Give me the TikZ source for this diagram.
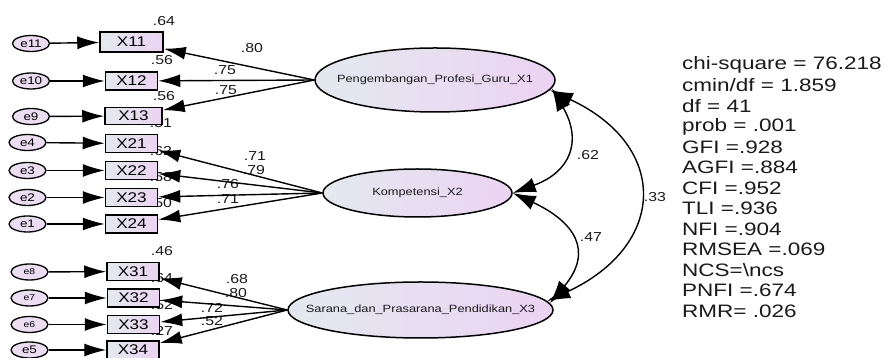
\documentclass[tikz,border=0pt]{standalone}
\usepackage{fontspec}
\setmainfont{Liberation Sans}
\usetikzlibrary{arrows.meta,shapes.geometric}
\definecolor{gl}{HTML}{E3E9EF}
\definecolor{gr}{HTML}{ECD3F3}
\definecolor{ef}{HTML}{ECDDF2}
\definecolor{tx}{HTML}{1A1A1A}
\newcommand\sx[1]{\scalebox{1.22}[1]{#1}}
\begin{document}
\begin{tikzpicture}[x=1pt,y=1pt,
  lat/.style={ellipse,draw,line width=1.5pt,left color=gl,right color=gr,inner sep=0pt},
  lattext/.style={inner sep=0pt,text=tx,font=\fontsize{10.5}{12}\selectfont},
  obs/.style={rectangle,draw,line width=1.5pt,left color=gl,right color=gr,inner sep=0pt,minimum width=52pt,minimum height=18pt,font=\fontsize{14}{16}\selectfont},
  err/.style={ellipse,draw,line width=1.3pt,fill=ef,inner sep=0pt,minimum width=37pt,minimum height=16pt,font=\fontsize{11}{12}\selectfont},
  errs/.style={err,font=\fontsize{8.5}{10}\selectfont},
  pth/.style={line width=1.4pt,-{Latex[length=22pt,width=13pt]}},
  cov/.style={line width=1.4pt,{Latex[length=23pt,width=15pt]}-{Latex[length=23pt,width=15pt]}},
  lab/.style={font=\fontsize{13}{14}\selectfont,text=tx,inner sep=0pt},
  stat/.style={font=\fontsize{18}{20}\selectfont,anchor=west,inner sep=0pt,text=tx}
]
\useasboundingbox (0,0) rectangle (887,358);
\fill[white] (0,0) rectangle (887,358);

% squared multiple correlations
\node[lab] (r11) at (164,337) {\sx{.64}};
\node[lab] (r12) at (162,298) {\sx{.56}};
\node[lab] (r13) at (164,262) {\sx{.56}};
\node[lab] (r21) at (161,235) {\sx{.51}};
\node[lab] (r22) at (161,207) {\sx{.62}};
\node[lab] (r23) at (161,181) {\sx{.58}};
\node[lab] (r24) at (161,155) {\sx{.50}};
\node[lab] (r31) at (162,107) {\sx{.46}};
\node[lab] (r32) at (162,80) {\sx{.64}};
\node[lab] (r33) at (162,53) {\sx{.52}};
\node[lab] (r34) at (162,27) {\sx{.27}};

% loadings
\node[lab] (l11) at (252,310) {\sx{.80}};
\node[lab] (l12) at (225,288) {\sx{.75}};
\node[lab] (l13) at (226,268) {\sx{.75}};
\node[lab] (l21) at (255,202) {\sx{.71}};
\node[lab] (l22) at (254,188) {\sx{.79}};
\node[lab] (l23) at (228,174) {\sx{.76}};
\node[lab] (l24) at (228,159) {\sx{.71}};
\node[lab] (l31) at (237,79) {\sx{.68}};
\node[lab] (l32) at (236,65) {\sx{.80}};
\node[lab] (l33) at (212,50) {\sx{.72}};
\node[lab] (l34) at (212,37) {\sx{.52}};

% observed
\node[obs,minimum width=63pt,minimum height=20pt] (X11) at (131.5,316) {\sx{X11}};
\node[obs] (X12) at (131.5,277) {\sx{X12}};
\node[obs,minimum width=57pt,minimum height=17pt] (X13) at (133.5,242) {\sx{X13}};
\node[obs] (X21) at (131.5,214.5) {\sx{X21}};
\node[obs] (X22) at (131.5,187.5) {\sx{X22}};
\node[obs] (X23) at (131.5,160.5) {\sx{X23}};
\node[obs] (X24) at (131.5,134) {\sx{X24}};
\node[obs] (X31) at (133,86.5) {\sx{X31}};
\node[obs] (X32) at (133.5,60) {\sx{X32}};
\node[obs] (X33) at (133.5,33.5) {\sx{X33}};
\node[obs] (X34) at (133,8) {\sx{X34}};

% errors
\node[err] (e11) at (31,314.5) {\sx{e11}};
\node[err] (e10) at (31,277) {\sx{e10}};
\node[err] (e9) at (31,241.5) {\sx{e9}};
\node[err] (e4) at (27.5,215.5) {\sx{e4}};
\node[err] (e3) at (27.5,187.5) {\sx{e3}};
\node[err] (e2) at (27.5,160.5) {\sx{e2}};
\node[err] (e1) at (27.5,134) {\sx{e1}};
\node[errs] (e8) at (29.5,86) {\sx{e8}};
\node[errs] (e7) at (29.5,60) {\sx{e7}};
\node[errs] (e6) at (29.5,33.5) {\sx{e6}};
\node[err] (e5) at (29.5,8) {\sx{e5}};

% latent
\node[lat,minimum width=240pt,minimum height=64pt,label={[lattext]center:\sx{Pengembangan\_Profesi\_Guru\_X1}}] (F1) at (435,278) {};
\node[lat,minimum width=189pt,minimum height=48pt,label={[lattext]center:\sx{Kompetensi\_X2}}] (F2) at (417.5,165) {};
\node[lat,minimum width=265pt,minimum height=56pt,label={[lattext]center:\sx{Sarana\_dan\_Prasarana\_Pendidikan\_X3}}] (F3) at (420.5,48) {};

% error arrows
\foreach \e/\x in {e11/X11,e10/X12,e9/X13,e4/X21,e3/X22,e2/X23,e1/X24,e8/X31,e7/X32,e6/X33,e5/X34}
  \draw[pth] (\e) -- (\x);

% loading arrows
\foreach \x in {X11,X12,X13} \draw[pth] (F1.west) -- (\x);
\foreach \x in {X21,X22,X23,X24} \draw[pth] (F2.west) -- (\x);
\foreach \x in {X31,X32,X33,X34} \draw[pth] (F3.west) -- (\x);

% covariances
\draw[cov] (F1.-4) to[out=-60,in=20,looseness=1.4] (F2.east);
\draw[cov] (F2.east) to[out=-25,in=50,looseness=1.5] (F3.3);
\draw[cov] (F1.-5) to[out=-25,in=25,looseness=1.6] (F3.4);
\node[lab] (c12) at (588,203) {\sx{.62}};
\node[lab] (c23) at (591,121) {\sx{.47}};
\node[lab] (c13) at (655,161) {\sx{.33}};

% fit statistics
\node[stat] (s1) at (682,293) {\scalebox{1.25}[1]{chi-square = 76.218}};
\node[stat] (s2) at (682,272.5) {\scalebox{1.25}[1]{cmin/df = 1.859}};
\node[stat] (s3) at (682,252) {\scalebox{1.25}[1]{df = 41}};
\node[stat] (s4) at (682,231.5) {\scalebox{1.25}[1]{prob = .001}};
\node[stat] (s5) at (682,211) {\scalebox{1.25}[1]{GFI =.928}};
\node[stat] (s6) at (682,190.5) {\scalebox{1.25}[1]{AGFI =.884}};
\node[stat] (s7) at (682,170) {\scalebox{1.25}[1]{CFI =.952}};
\node[stat] (s8) at (682,149.5) {\scalebox{1.25}[1]{TLI =.936}};
\node[stat] (s9) at (682,129) {\scalebox{1.25}[1]{NFI =.904}};
\node[stat] (s10) at (682,108.5) {\scalebox{1.25}[1]{RMSEA =.069}};
\node[stat] (s11) at (682,88) {\scalebox{1.25}[1]{NCS=\textbackslash ncs}};
\node[stat] (s12) at (682,67.5) {\scalebox{1.25}[1]{PNFI =.674}};
\node[stat] (s13) at (682,47) {\scalebox{1.25}[1]{RMR= .026}};
\end{tikzpicture}
\end{document}
